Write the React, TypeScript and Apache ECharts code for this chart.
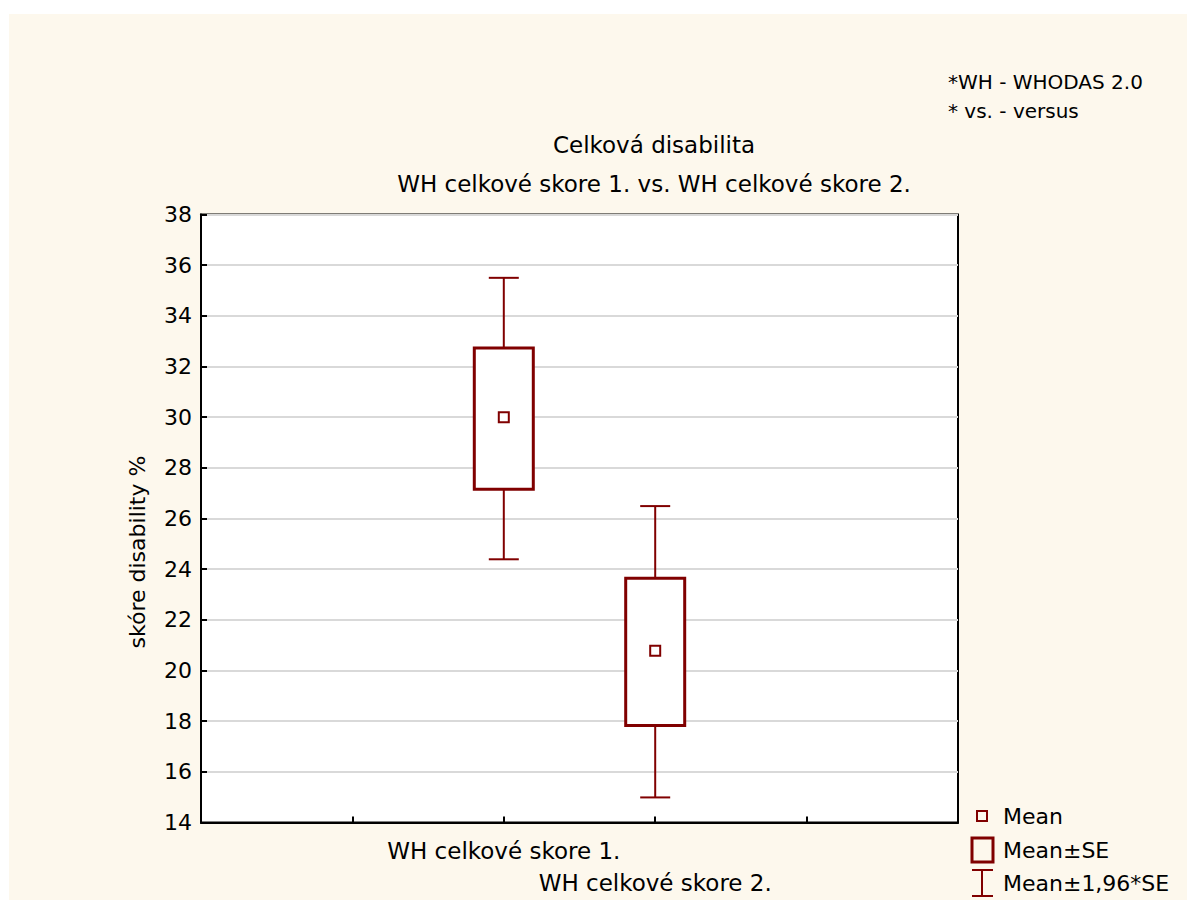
import React, { useEffect, useRef } from "react";
import * as echarts from "echarts";

// ---- data ----
const categories = ["WH celkové skore 1.", "WH celkové skore 2."];
const categoryX = [2, 3]; // positions of the categories on the 0..5 x scale
const means = [30.0, 20.78];
const seLow = [27.15, 17.83];
const seHigh = [32.73, 23.64];
const ciLow = [24.39, 14.99];
const ciHigh = [35.5, 26.49];

const yTicks = { min: 14, max: 38, step: 2 };

const titleLines = ["Celková disabilita", "WH celkové skore 1. vs. WH celkové skore 2."];
const noteLines = ["*WH - WHODAS 2.0", "* vs. - versus"];
const legendLabels = ["Mean", "Mean±SE", "Mean±1,96*SE"];
const yAxisName = "skóre disability %";

const MAROON = "#800000";
const FONT = "DejaVu Sans";

export default function App() {
  const ref = useRef<HTMLDivElement>(null);

  useEffect(() => {
    if (!ref.current) return;
    const chart = echarts.init(ref.current, undefined, { renderer: "svg" });

    const seriesData = categories.map((_, i) => [
      categoryX[i],
      means[i],
      seLow[i],
      seHigh[i],
      ciLow[i],
      ciHigh[i],
    ]);

    const renderItem = (params: any, api: any) => {
      const x = api.value(0);
      const c = api.coord([x, api.value(1)]);
      const sL = api.coord([x, api.value(2)]);
      const sH = api.coord([x, api.value(3)]);
      const cL = api.coord([x, api.value(4)]);
      const cH = api.coord([x, api.value(5)]);
      const cx = c[0];
      const boxW = 59;
      const capW = 30;
      const mk = 10;
      const thin = { stroke: MAROON, lineWidth: 2, fill: null };
      return {
        type: "group",
        children: [
          { type: "line", shape: { x1: cx, y1: cH[1], x2: cx, y2: sH[1] }, style: thin },
          { type: "line", shape: { x1: cx, y1: sL[1], x2: cx, y2: cL[1] }, style: thin },
          { type: "line", shape: { x1: cx - capW / 2, y1: cH[1], x2: cx + capW / 2, y2: cH[1] }, style: thin },
          { type: "line", shape: { x1: cx - capW / 2, y1: cL[1], x2: cx + capW / 2, y2: cL[1] }, style: thin },
          {
            type: "rect",
            shape: { x: cx - boxW / 2, y: sH[1], width: boxW, height: sL[1] - sH[1] },
            style: { stroke: MAROON, lineWidth: 3, fill: "#ffffff" },
          },
          {
            type: "rect",
            shape: { x: cx - mk / 2, y: c[1] - mk / 2, width: mk, height: mk },
            style: { stroke: MAROON, lineWidth: 2, fill: "#ffffff" },
          },
        ],
      };
    };

    const legendX = 982;
    const legendTextX = 1003;
    const legendY = [816, 850, 883];

    const graphic: any[] = [
      ...titleLines.map((t, i) => ({
        type: "text",
        x: 654,
        y: [145, 184][i],
        style: { text: t, font: `23px "${FONT}"`, fill: "#000", align: "center", verticalAlign: "middle" },
      })),
      ...noteLines.map((t, i) => ({
        type: "text",
        x: 948,
        y: [82, 111][i],
        style: { text: t, font: `20px "${FONT}"`, fill: "#000", align: "left", verticalAlign: "middle" },
      })),
      {
        type: "text",
        x: 137,
        y: 552,
        rotation: Math.PI / 2,
        style: { text: yAxisName, font: `22px "${FONT}"`, fill: "#000", align: "center", verticalAlign: "middle" },
      },
      ...legendLabels.map((t, i) => ({
        type: "text",
        x: legendTextX,
        y: legendY[i],
        style: { text: t, font: `22px "${FONT}"`, fill: "#000", align: "left", verticalAlign: "middle" },
      })),
      // legend icons
      {
        type: "rect",
        shape: { x: legendX - 5, y: legendY[0] - 5, width: 10, height: 10 },
        style: { stroke: MAROON, lineWidth: 2, fill: "none" },
      },
      {
        type: "rect",
        shape: { x: legendX - 10, y: legendY[1] - 12, width: 21, height: 24 },
        style: { stroke: MAROON, lineWidth: 3, fill: "none" },
      },
      {
        type: "line",
        shape: { x1: legendX, y1: legendY[2] - 13, x2: legendX, y2: legendY[2] + 13 },
        style: { stroke: MAROON, lineWidth: 2 },
      },
      {
        type: "line",
        shape: { x1: legendX - 10, y1: legendY[2] - 13, x2: legendX + 11, y2: legendY[2] - 13 },
        style: { stroke: MAROON, lineWidth: 2 },
      },
      {
        type: "line",
        shape: { x1: legendX - 10, y1: legendY[2] + 13, x2: legendX + 11, y2: legendY[2] + 13 },
        style: { stroke: MAROON, lineWidth: 2 },
      },
    ];

    const labelFor = (which: number) => (v: number) => {
      const idx = categoryX.indexOf(v);
      return idx === which ? categories[idx] : "";
    };

    const baseX = {
      type: "value",
      min: 0,
      max: 5,
      interval: 1,
      splitLine: { show: false },
    };

    chart.setOption({
      animation: false,
      grid: {
        left: 201,
        top: 214.5,
        right: 1187 - 958,
        bottom: 900 - 822.5,
        show: true,
        backgroundColor: "#ffffff",
        borderColor: "#000000",
        borderWidth: 2,
        containLabel: false,
      },
      xAxis: [
        {
          ...baseX,
          position: "bottom",
          axisLine: { show: true, lineStyle: { color: "#000", width: 2 } },
          axisTick: { show: true, inside: true, length: 6, lineStyle: { color: "#000", width: 2 } },
          axisLabel: {
            show: true,
            margin: 15,
            color: "#000",
            fontFamily: FONT,
            fontSize: 23,
            lineHeight: 26,
            formatter: labelFor(0),
          },
        },
        {
          ...baseX,
          position: "bottom",
          axisLine: { show: false },
          axisTick: { show: false },
          axisLabel: {
            show: true,
            margin: 47,
            color: "#000",
            fontFamily: FONT,
            fontSize: 23,
            lineHeight: 26,
            formatter: labelFor(1),
          },
        },
      ],
      yAxis: {
        type: "value",
        min: yTicks.min,
        max: yTicks.max,
        interval: yTicks.step,
        axisLine: { show: true, lineStyle: { color: "#000", width: 2 } },
        axisTick: { show: true, inside: true, length: 6, lineStyle: { color: "#000", width: 2 } },
        splitLine: { show: true, lineStyle: { color: "#d9d9d9", width: 2 } },
        axisLabel: { color: "#000", fontFamily: FONT, fontSize: 22, margin: 9 },
      },
      graphic,
      series: [
        {
          type: "custom",
          xAxisIndex: 0,
          renderItem,
          data: seriesData,
          encode: { x: 0, y: [1, 2, 3, 4, 5] },
          clip: false,
        },
      ],
    });

    return () => chart.dispose();
  }, []);

  return (
    <div style={{ position: "absolute", left: 0, top: 0, width: 1187, height: 900, background: "#ffffff" }}>
      <div
        style={{ position: "absolute", left: 9, top: 14, width: 1178, height: 886, background: "#fdf8ed" }}
      />
      <div ref={ref} style={{ position: "absolute", left: 0, top: 0, width: 1187, height: 900 }} />
    </div>
  );
}
